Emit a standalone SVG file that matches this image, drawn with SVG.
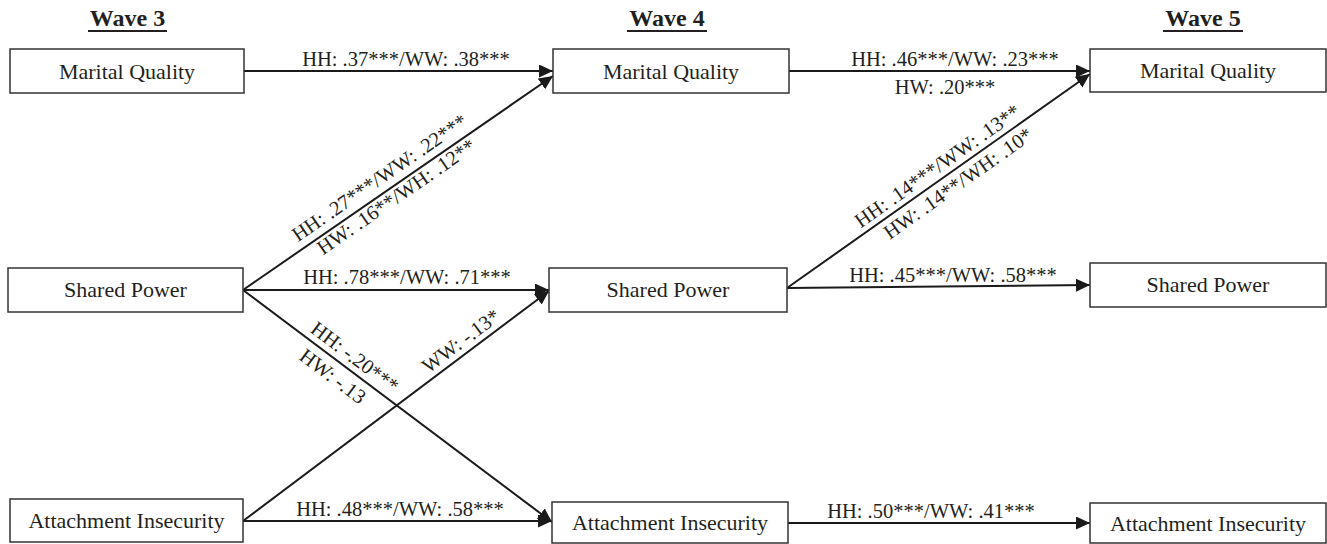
<svg xmlns="http://www.w3.org/2000/svg" width="1327" height="544" viewBox="0 0 1327 544">
<style>
.box{fill:#fff;stroke:#333;stroke-width:1.5}
.bt{font-family:"Liberation Serif","Times New Roman",serif;font-size:22px;fill:#231f20;text-anchor:middle}
.lb{font-family:"Liberation Serif","Times New Roman",serif;font-size:20.5px;fill:#231f20;text-anchor:middle}
.hd{font-family:"Liberation Serif","Times New Roman",serif;font-size:24px;font-weight:bold;fill:#231f20;text-anchor:middle}
.ul{stroke:#231f20;stroke-width:2.2}
.c{stroke:#1a1a1a;stroke-width:2;fill:none;marker-end:url(#ah)}
</style>
<defs>
<marker id="ah" markerUnits="userSpaceOnUse" markerWidth="16" markerHeight="15" refX="14" refY="6.5" orient="auto">
<path d="M0,0 L14,6.5 L0,13 z" fill="#1a1a1a"/>
</marker>
</defs>
<rect width="1327" height="544" fill="#fff"/>
<g id="headers">
<text class="hd" x="127.5" y="26">Wave 3</text>
<line class="ul" x1="88" y1="31" x2="167" y2="31"/>
<text class="hd" x="667" y="26">Wave 4</text>
<line class="ul" x1="627" y1="31" x2="707" y2="31"/>
<text class="hd" x="1203" y="26">Wave 5</text>
<line class="ul" x1="1163" y1="31" x2="1243" y2="31"/>
</g>
<g id="connectors">
<line class="c" x1="244" y1="71" x2="553" y2="71"/>
<line class="c" x1="789" y1="71" x2="1090" y2="71"/>
<line class="c" x1="243" y1="290" x2="553" y2="76"/>
<line class="c" x1="243" y1="290" x2="549" y2="290"/>
<line class="c" x1="243" y1="290" x2="552" y2="522"/>
<line class="c" x1="243" y1="521" x2="549" y2="291"/>
<line class="c" x1="243" y1="521" x2="552" y2="521"/>
<line class="c" x1="788" y1="523" x2="1090" y2="523"/>
<line class="c" x1="787" y1="288" x2="1090" y2="74"/>
<line class="c" x1="787" y1="288" x2="1090" y2="285"/>
<text class="lb" x="406" y="66">HH: .37***/WW: .38***</text>
<text class="lb" x="955" y="66">HH: .46***/WW: .23***</text>
<text class="lb" x="945" y="94">HW: .20***</text>
<text class="lb" transform="translate(387.9,190) rotate(-34.6)" y="-8">HH: .27***/WW: .22***</text>
<text class="lb" transform="translate(390.4,188.3) rotate(-34.6)" y="17">HW: .16**/WH: .12**</text>
<text class="lb" x="407" y="284">HH: .78***/WW: .71***</text>
<text class="lb" transform="translate(346.8,367.9) rotate(36.9)" y="-6.6">HH: -.20***</text>
<text class="lb" transform="translate(341.9,364.2) rotate(36.9)" y="22">HW: -.13</text>
<text class="lb" transform="translate(468.6,351.1) rotate(-36.8)" y="-6">WW: -.13*</text>
<text class="lb" x="400" y="516">HH: .48***/WW: .58***</text>
<text class="lb" x="931" y="518">HH: .50***/WW: .41***</text>
<text class="lb" transform="translate(944.8,176.5) rotate(-35.2)" y="-6">HH: .14***/WW: .13**</text>
<text class="lb" transform="translate(950.4,172.6) rotate(-35.2)" y="20">HW: .14**/WH: .10*</text>
<text class="lb" x="953" y="282">HH: .45***/WW: .58***</text>
</g>
<g id="mq3"><rect class="box" x="10" y="49" width="234" height="44"/><text class="bt" x="127" y="79">Marital Quality</text></g>
<g id="mq4"><rect class="box" x="553" y="49" width="236" height="44"/><text class="bt" x="671" y="79">Marital Quality</text></g>
<g id="mq5"><rect class="box" x="1090" y="49" width="236" height="43"/><text class="bt" x="1208" y="78">Marital Quality</text></g>
<g id="sp3"><rect class="box" x="8" y="268" width="235" height="44"/><text class="bt" x="125.5" y="297">Shared Power</text></g>
<g id="sp4"><rect class="box" x="549" y="268" width="238" height="44"/><text class="bt" x="668" y="297">Shared Power</text></g>
<g id="sp5"><rect class="box" x="1090" y="263" width="236" height="44"/><text class="bt" x="1208" y="292">Shared Power</text></g>
<g id="ai3"><rect class="box" x="10" y="499" width="233" height="43"/><text class="bt" x="126.5" y="528">Attachment Insecurity</text></g>
<g id="ai4"><rect class="box" x="552" y="502" width="236" height="41"/><text class="bt" x="670" y="530">Attachment Insecurity</text></g>
<g id="ai5"><rect class="box" x="1090" y="503" width="236" height="40"/><text class="bt" x="1208" y="531">Attachment Insecurity</text></g>
</svg>
